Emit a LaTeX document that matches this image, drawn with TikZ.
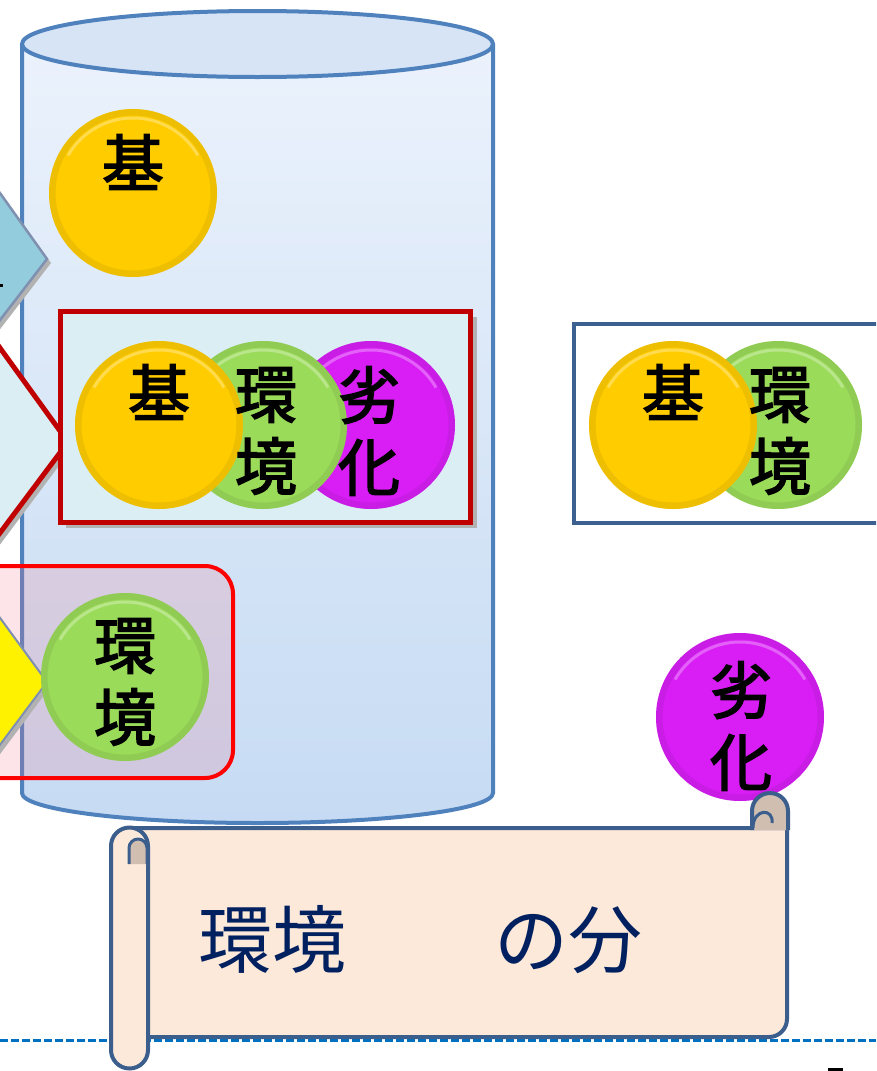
\documentclass[tikz,border=0pt]{standalone}
\usepackage{fontspec}
\newfontfamily\cjk{Noto Sans CJK JP}
\newfontfamily\cjkb{Noto Sans CJK JP}[FakeBold=2.6]
\definecolor{cylline}{HTML}{4F81BD}
\definecolor{cyltop}{HTML}{EBF2FC}
\definecolor{cylbot}{HTML}{C6DBF3}
\definecolor{cylcap}{HTML}{D6E4F6}
\definecolor{ybtn}{HTML}{FFCC00}
\definecolor{gbtn}{HTML}{9BDB5A}
\definecolor{pbtn}{HTML}{D81EF5}
\definecolor{darkred}{HTML}{C00000}
\definecolor{paleblue}{HTML}{DAEEF3}
\definecolor{skyblue}{HTML}{93CDDD}
\definecolor{graybluel}{HTML}{8090B0}
\definecolor{framebl}{HTML}{3C6090}
\definecolor{scrollfill}{HTML}{FDE9DA}
\definecolor{scrollline}{HTML}{3B5E8C}
\definecolor{tanc}{HTML}{D0BFB0}
\definecolor{navy}{HTML}{002060}
\definecolor{dashc}{HTML}{0070C0}
\begin{document}
\begin{tikzpicture}[x=1pt,y=-1pt,
  cyl/.style={draw=cylline,line width=4pt},
  shadowc/.style={fill=black!30},
  btn/.style={circle,minimum size=168pt,inner sep=0pt,fill=#1,
    path picture={
      \draw[line width=7pt,#1!70!black,opacity=0.22] (path picture bounding box.center) circle (81pt);
      \draw[line width=3pt,white,opacity=0.3] (path picture bounding box.center) ++(150:75pt) arc[start angle=150,end angle=30,radius=75pt];
    }},
  btxt/.style={inner sep=0pt,align=center,font={\cjkb\fontsize{62pt}{72pt}\selectfont},text=black},
  scroll/.style={draw=scrollline,line width=4pt,fill=scrollfill,line join=round}
]
\useasboundingbox (0,0) rectangle (876,1071);
\clip (0,0) rectangle (876,1071);

% cylinder
\shade[top color=cyltop,bottom color=cylbot] (22,44) -- (22,793) arc[start angle=180,end angle=360,x radius=235.5pt,y radius=30pt] -- (493,44) -- cycle;
\draw[cyl] (22,44) -- (22,793) arc[start angle=180,end angle=360,x radius=235.5pt,y radius=30pt] -- (493,44);
\filldraw[cyl,fill=cylcap] (257.5,44) ellipse [x radius=235.5pt,y radius=33pt];

% left blue diamond
\fill[shadowc] (-56,113) -- (51,263) -- (-56,402) -- (-196,263) -- cycle;
\filldraw[draw=graybluel,line width=2.5pt,fill=skyblue,line join=miter] (-60,109) -- (47,259) -- (-60,398) -- (-200,259) -- cycle;
\fill (0,284) rectangle (3,287);

% red diamond
\fill[shadowc] (-55,270) -- (73,447) -- (-55,618) -- (-195,447) -- cycle;
\filldraw[draw=darkred,line width=5pt,fill=paleblue,line join=miter] (-60,265) -- (68,442) -- (-60,613) -- (-200,442) -- cycle;

% pink rounded frame
\filldraw[draw=red,line width=4pt,fill={rgb,255:red,240;green,120;blue,140},fill opacity=0.2,rounded corners=28pt] (-30,566) rectangle (233,778);

% yellow diamond
\fill[shadowc] (-56,540) -- (51,686) -- (-56,829) -- (-196,686) -- cycle;
\filldraw[draw=graybluel,line width=2pt,fill=yellow,line join=miter] (-60,536) -- (47,682) -- (-60,825) -- (-200,682) -- cycle;

% top button
\node[btn=ybtn] (k1) at (133,193) {};
\node[btxt] (k1t) at (133,162) {基};

% red framed group
\fill[shadowc] (66,317) rectangle (477,528);
\filldraw[draw=darkred,line width=5pt,fill=paleblue] (60,311) rectangle (470,522);
\node[btn=pbtn] (p2) at (371,425) {};
\node[btn=gbtn] (g2) at (263,425) {};
\node[btn=ybtn] (k2) at (159,425) {};
\node[btxt] (k2t) at (159,392) {基};
\node[btxt] (g2t) at (266,431) {環\\境};
\node[btxt] (p2t) at (369,431) {劣\\化};

% right frame
\filldraw[draw=framebl,line width=3.5pt,fill=white] (574,324) rectangle (900,523);
\node[btn=gbtn] (g3) at (778,425) {};
\node[btn=ybtn] (k3) at (673,425) {};
\node[btxt] (k3t) at (673,392) {基};
\node[btxt] (g3t) at (780,431) {環\\境};

% green alone
\node[btn=gbtn] (g4) at (125,677) {};
\node[btxt] (g4t) at (125,682) {環\\境};

% purple alone
\node[btn=pbtn] (p4) at (740,717) {};
\node[btxt] (p4t) at (741,726) {劣\\化};

% dashed line
\draw[dashc,line width=3pt,dash pattern=on 8pt off 3pt] (0,1040) -- (876,1040);
\fill (828,1068) rectangle (843,1071);

% scroll
\filldraw[scroll] (129,828) -- (787,828) -- (787,1019) arc[start angle=0,end angle=-90,radius=18pt] -- (129,1037) -- cycle;
\filldraw[scroll,fill=tanc] (752,830) -- (752,811) arc[start angle=180,end angle=0,radius=18pt] -- (788,830);
\draw[draw=scrollline,line width=3pt] (753,828) .. controls (753,808) and (774,808) .. (772,823);
\filldraw[scroll] (111,846) -- (111,1050) arc[start angle=180,end angle=360,radius=18.5pt] -- (148,846) arc[start angle=0,end angle=180,radius=18.5pt] -- cycle;
\filldraw[scroll,fill=tanc,line width=3pt] (129,864) -- (129,848) arc[start angle=180,end angle=0,radius=9pt] -- (147,864);
\node[anchor=west,inner sep=0pt,font={\cjk\fontsize{74pt}{80pt}\selectfont},text=navy] (title) at (198,940) {環境　　の分};
\end{tikzpicture}
\end{document}
